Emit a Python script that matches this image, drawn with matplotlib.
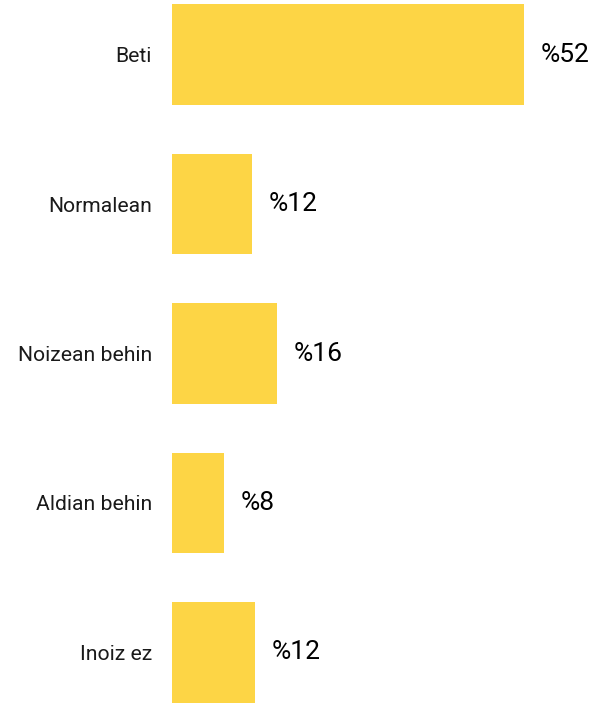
import matplotlib.pyplot as plt
import numpy as np

# === データ ===
categories = ["Beti", "Normalean", "Noizean behin", "Aldian behin", "Inoiz ez"]
values = [52, 11.8, 15.5, 7.7, 12.3]
value_labels = ["%52", "%12", "%16", "%8", "%12"]

BAR_COLOR = "#FDD545"

plt.rcParams['font.family'] = ['Roboto', 'DejaVu Sans']

fig = plt.figure(figsize=(5.95, 7.03), dpi=100)
ax = fig.add_axes([172 / 595, 0, 423 / 595, 1])

y = np.arange(len(categories))
ax.barh(y, values, height=0.67, color=BAR_COLOR)

for yi, v, lab in zip(y, values, value_labels):
    ax.annotate(lab, (v, yi), xytext=(12, 0), textcoords="offset points",
                ha="left", va="center", fontsize=19, color="#000000")

ax.set_yticks(y)
ax.set_yticklabels(categories, fontsize=15.2, color="#1a1a1a")
ax.tick_params(axis="y", length=0, pad=14.4)
ax.set_xticks([])
ax.set_xlim(0, 423 / 6.77)
ax.set_ylim(4.338, -0.365)
for s in ax.spines.values():
    s.set_visible(False)

fig.savefig("out.png", dpi=100)
